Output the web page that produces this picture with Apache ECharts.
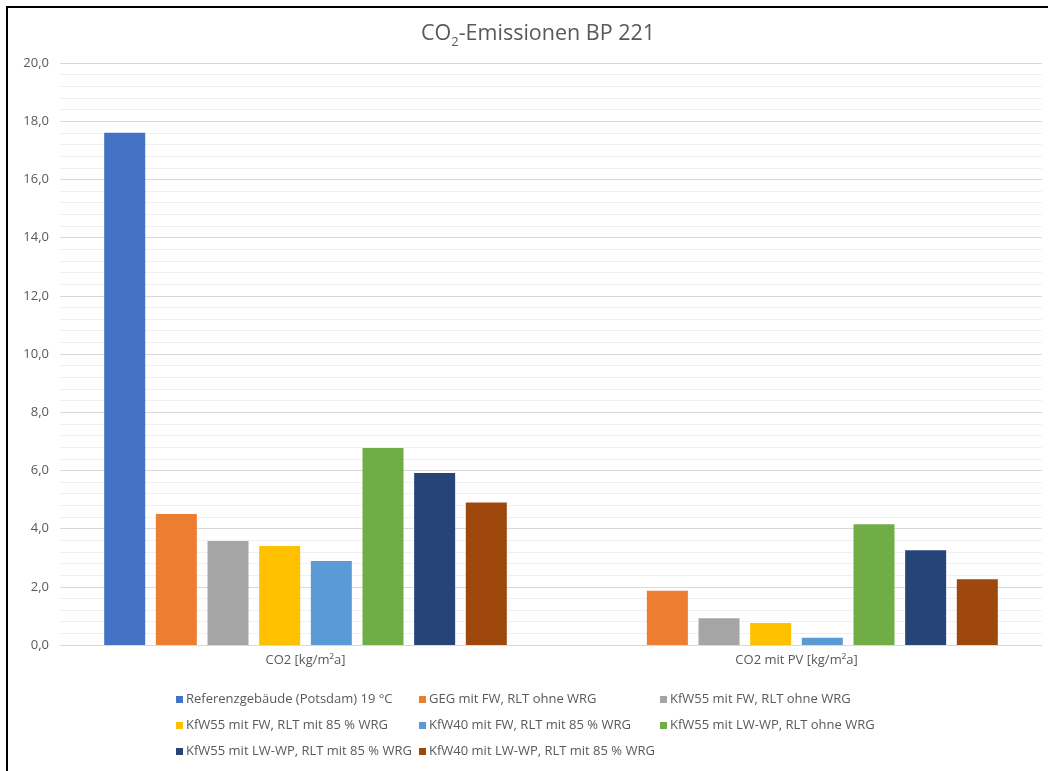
<!DOCTYPE html>
<html>
<head>
<meta charset="utf-8">
<script src="https://cdn.jsdelivr.net/npm/echarts@6/dist/echarts.min.js"></script>
<style>
html,body{margin:0;padding:0;background:#fff;}
#chart{width:1048px;height:771px;}
</style>
</head>
<body>
<div id="chart"></div>
<script>
const categories = ['CO2 [kg/m²a]', 'CO2 mit PV [kg/m²a]'];
const seriesNames = [
  'Referenzgebäude (Potsdam) 19 °C',
  'GEG mit FW, RLT ohne WRG',
  'KfW55 mit FW, RLT ohne WRG',
  'KfW55 mit FW, RLT mit 85 % WRG',
  'KfW40 mit FW, RLT mit 85 % WRG',
  'KfW55 mit LW-WP, RLT ohne WRG',
  'KfW55 mit LW-WP, RLT mit 85 % WRG',
  'KfW40 mit LW-WP, RLT mit 85 % WRG'
];
const referenz = [17.6, null];
const gegFw = [4.5, 1.86];
const kfw55FwOhne = [3.57, 0.92];
const kfw55Fw85 = [3.4, 0.76];
const kfw40Fw85 = [2.89, 0.25];
const kfw55LwOhne = [6.77, 4.15];
const kfw55Lw85 = [5.91, 3.26];
const kfw40Lw85 = [4.9, 2.26];
const seriesValues = [referenz, gegFw, kfw55FwOhne, kfw55Fw85, kfw40Fw85, kfw55LwOhne, kfw55Lw85, kfw40Lw85];
const colors = ['#4472C4', '#ED7D31', '#A5A5A5', '#FFC000', '#5B9BD5', '#70AD47', '#264478', '#9E480E'];
const yTicks = { min: 0, max: 20, interval: 2 };

const font = '"Open Sans", "Noto Sans", sans-serif';
const txt = '#595959';

const chart = echarts.init(document.getElementById('chart'), null, { renderer: 'canvas' });

const legendStyle = {
  orient: 'vertical',
  top: 686,
  itemWidth: 7,
  itemHeight: 7,
  itemGap: 9,
  icon: 'rect',
  textStyle: { color: txt, fontSize: 13, fontFamily: font, lineHeight: 17, padding: [0, 0, 0, -2] }
};

chart.setOption({
  animation: false,
  color: colors,
  title: {
    text: '{n|CO}{s|2}{n|-Emissionen BP 221}',
    left: 416,
    top: 14,
    textStyle: {
      rich: {
        n: { fontSize: 21.5, color: txt, fontFamily: font, fontWeight: 'normal', verticalAlign: 'bottom', lineHeight: 26 },
        s: { fontSize: 13, color: txt, fontFamily: font, fontWeight: 'normal', verticalAlign: 'bottom', lineHeight: 26, padding: [0, 0, -4, 0] }
      }
    }
  },
  graphic: [{
    type: 'rect',
    shape: { x: 7, y: 7, width: 1100, height: 800 },
    style: { fill: 'none', stroke: '#000', lineWidth: 2 },
    silent: true
  }],
  legend: [
    Object.assign({ left: 171, data: [seriesNames[0], seriesNames[3], seriesNames[6]] }, legendStyle),
    Object.assign({ left: 414, data: [seriesNames[1], seriesNames[4], seriesNames[7]] }, legendStyle),
    Object.assign({ left: 655, data: [seriesNames[2], seriesNames[5]] }, legendStyle)
  ],
  grid: { left: 60, right: 6, top: 63, bottom: 126, containLabel: false },
  xAxis: {
    type: 'category',
    data: categories,
    axisTick: { show: false },
    axisLine: { lineStyle: { color: '#d9d9d9', width: 1 } },
    axisLabel: { color: txt, fontSize: 13, fontFamily: font, margin: 9 }
  },
  yAxis: {
    type: 'value',
    min: yTicks.min,
    max: yTicks.max,
    interval: yTicks.interval,
    axisLine: { show: false },
    axisTick: { show: false },
    axisLabel: {
      color: txt, fontSize: 13, fontFamily: font, margin: 11,
      formatter: v => v.toFixed(1).replace('.', ',')
    },
    splitLine: { lineStyle: { color: '#d9d9d9', width: 1 } },
    minorTick: { show: false, splitNumber: 5 },
    minorSplitLine: { show: true, lineStyle: { color: '#f0f0f0', width: 1 } }
  },
  series: seriesNames.map((name, i) => ({
    name: name,
    type: 'bar',
    data: seriesValues[i],
    barGap: '26%',
    barCategoryGap: '18%',
    itemStyle: { color: colors[i] }
  }))
});
</script>
</body>
</html>
